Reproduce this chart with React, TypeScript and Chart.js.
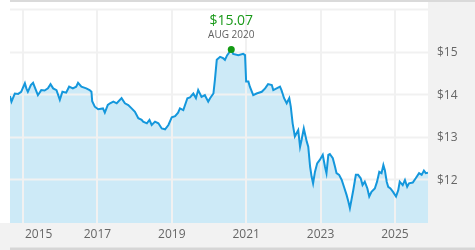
import { useEffect, useRef } from 'react';
import { Chart, registerables } from 'chart.js';

Chart.register(...registerables);

// Dates as decimal years, prices in dollars
const years = [
  2014.65, 2014.69, 2014.78, 2014.87, 2014.95, 2015.05, 2015.09, 2015.13, 2015.21, 2015.27,
  2015.31, 2015.40, 2015.49, 2015.58, 2015.67, 2015.74, 2015.81, 2015.90, 2015.99, 2016.06,
  2016.16, 2016.24, 2016.34, 2016.43, 2016.48, 2016.57, 2016.70, 2016.79, 2016.84, 2016.86,
  2016.93, 2017.02, 2017.15, 2017.20, 2017.28, 2017.34, 2017.43, 2017.52, 2017.65, 2017.74,
  2017.83, 2017.92, 2018.01, 2018.10, 2018.19, 2018.23, 2018.33, 2018.40, 2018.46, 2018.55,
  2018.64, 2018.73, 2018.82, 2018.91, 2019.00, 2019.09, 2019.17, 2019.22, 2019.31, 2019.42,
  2019.49, 2019.58, 2019.65, 2019.71, 2019.80, 2019.89, 2019.98, 2020.03, 2020.12, 2020.16,
  2020.21, 2020.30, 2020.38, 2020.43, 2020.49, 2020.60, 2020.65, 2020.79, 2020.92, 2020.97,
  2021.00, 2021.06, 2021.10, 2021.19, 2021.28, 2021.42, 2021.51, 2021.59, 2021.69, 2021.73,
  2021.82, 2021.91, 2021.95, 2022.02, 2022.09, 2022.16, 2022.20, 2022.25, 2022.31, 2022.40,
  2022.45, 2022.49, 2022.55, 2022.63, 2022.67, 2022.72, 2022.76, 2022.80, 2022.85, 2022.91,
  2022.98, 2023.06, 2023.12, 2023.16, 2023.21, 2023.25, 2023.33, 2023.39, 2023.43, 2023.50,
  2023.57, 2023.63, 2023.70, 2023.75, 2023.79, 2023.84, 2023.88, 2023.95, 2024.01, 2024.08,
  2024.13, 2024.19, 2024.26, 2024.31, 2024.37, 2024.46, 2024.52, 2024.58, 2024.64, 2024.69,
  2024.73, 2024.78, 2024.82, 2024.88, 2024.95, 2025.03, 2025.09, 2025.13, 2025.21, 2025.27,
  2025.33, 2025.38, 2025.48, 2025.56, 2025.65, 2025.72, 2025.78, 2025.83, 2025.89,
];

const prices = [
  13.98, 13.85, 14.04, 14.03, 14.08, 14.28, 14.16, 14.08, 14.24, 14.29,
  14.20, 14.00, 14.12, 14.11, 14.16, 14.26, 14.16, 14.12, 13.89, 14.08,
  14.06, 14.20, 14.16, 14.20, 14.29, 14.20, 14.16, 14.12, 14.08, 13.86,
  13.73, 13.67, 13.69, 13.59, 13.77, 13.81, 13.85, 13.81, 13.93, 13.81,
  13.77, 13.69, 13.61, 13.46, 13.42, 13.38, 13.34, 13.42, 13.30, 13.38,
  13.34, 13.22, 13.20, 13.30, 13.48, 13.51, 13.59, 13.69, 13.65, 13.93,
  13.95, 14.04, 13.93, 14.12, 13.96, 14.00, 13.85, 13.93, 14.04, 14.36,
  14.83, 14.90, 14.87, 14.83, 14.94, 15.07, 14.97, 14.94, 14.97, 14.94,
  14.32, 14.32, 14.20, 14.00, 14.04, 14.08, 14.16, 14.26, 14.24, 14.12,
  14.16, 14.20, 14.12, 13.93, 13.81, 13.93, 13.73, 13.34, 13.03, 13.18,
  12.79, 12.95, 13.22, 12.91, 12.79, 12.32, 12.09, 11.93, 12.20, 12.40,
  12.48, 12.60, 12.32, 12.17, 12.60, 12.62, 12.52, 12.32, 12.17, 12.13,
  12.01, 11.85, 11.66, 11.50, 11.35, 11.58, 11.77, 12.13, 12.13, 12.05,
  11.89, 11.97, 11.81, 11.62, 11.73, 11.81, 11.97, 12.20, 12.17, 12.36,
  12.24, 11.97, 11.85, 11.81, 11.73, 11.62, 11.77, 11.97, 11.89, 12.01,
  11.85, 11.93, 11.95, 12.05, 12.17, 12.13, 12.23, 12.17, 12.18,
];

const peakYears = [2020.6];
const peakPrices = [15.07];
const peakLabels = ['AUG 2020'];

const xTickYears = [2015, 2017, 2019, 2021, 2023, 2025];
const xTickLabels = ['2015', '2017', '2019', '2021', '2023', '2025'];
const yTickValues = [12, 13, 14, 15];
const yGridValues = [12, 13, 14, 15, 16];
const xRange = [2014.65, 2025.89];
const yRange = [11, 16];

const FONT = '"Open Sans", "DejaVu Sans", sans-serif';

export default function App() {
  const ref = useRef<HTMLCanvasElement>(null);

  useEffect(() => {
    document.body.style.margin = '0';
    const canvas = ref.current;
    if (!canvas) return;

    const lineData = years.map((x, i) => ({ x, y: prices[i] }));
    const peakData = peakYears.map((x, i) => ({ x, y: peakPrices[i] }));

    const decor = {
      id: 'decor',
      beforeDraw(chart: any) {
        const c = chart.ctx;
        const { width, height } = chart;
        const a = chart.chartArea;
        c.save();
        c.fillStyle = '#ffffff';
        c.fillRect(0, 0, width, height);
        c.fillStyle = '#f2f2f2';
        c.fillRect(a.right, 2, width - a.right, a.bottom - 2);
        c.fillRect(0, a.bottom, width, height - a.bottom);
        c.fillStyle = '#dadada';
        c.fillRect(a.left, 0, width - a.left, 2);
        c.fillStyle = '#d6d6d6';
        c.fillRect(a.left, height - 2.5, width - a.left, 2.5);
        c.restore();
      },
      afterDatasetDraw(chart: any, args: any) {
        if (args.index !== 2) return;
        const c = chart.ctx;
        const a = chart.chartArea;
        const xs = chart.scales.x;
        const ys = chart.scales.y;
        c.save();
        c.strokeStyle = '#f1f1f1';
        c.lineWidth = 2;
        c.beginPath();
        xTickYears.forEach((v) => {
          const px = Math.round(xs.getPixelForValue(v));
          c.moveTo(px, a.top - 1);
          c.lineTo(px, a.bottom);
        });
        yGridValues.forEach((v) => {
          const py = Math.round(ys.getPixelForValue(v)) - 0.5;
          c.moveTo(a.left, py);
          c.lineTo(a.right, py);
        });
        c.stroke();
        c.restore();
      },
      afterDraw(chart: any) {
        const c = chart.ctx;
        const a = chart.chartArea;
        const xs = chart.scales.x;
        const ys = chart.scales.y;
        c.save();
        // x-axis labels
        c.font = `12px ${FONT}`;
        c.fillStyle = '#666666';
        c.textAlign = 'center';
        c.textBaseline = 'alphabetic';
        xTickYears.forEach((v, i) => {
          const label = xTickLabels[i];
          const w = c.measureText(label).width;
          const px = xs.getPixelForValue(v);
          const cx = Math.max(px, a.left + 15 + w / 2);
          c.fillText(label, cx, a.bottom + 14.5);
        });
        // peak annotation
        const px = xs.getPixelForValue(peakYears[0]);
        const py = ys.getPixelForValue(peakPrices[0]);
        c.fillStyle = '#1a9a1a';
        c.font = `14px ${FONT}`;
        c.fillText('$' + peakPrices[0].toFixed(2), px, py - 24.5);
        c.fillStyle = '#5f5f5f';
        c.font = `10px ${FONT}`;
        c.fillText(peakLabels[0], px, py - 12);
        c.restore();
      },
    };

    const chart = new Chart(canvas, {
      type: 'line',
      data: {
        datasets: [
          {
            data: peakData,
            showLine: false,
            pointRadius: 3.5,
            pointBackgroundColor: '#139a13',
            pointBorderWidth: 0,
            borderColor: '#139a13',
          },
          {
            data: lineData,
            borderColor: '#1497dc',
            borderWidth: 2,
            pointRadius: 0,
            fill: false,
            tension: 0,
          },
          {
            data: lineData,
            borderWidth: 0,
            borderColor: 'rgba(0,0,0,0)',
            backgroundColor: '#cdeaf7',
            pointRadius: 0,
            fill: 'start',
            tension: 0,
          },
        ],
      },
      options: {
        responsive: false,
        animation: false,
        devicePixelRatio: 1,
        events: [],
        layout: { padding: { left: 10, top: 10, right: 0, bottom: 0 } },
        plugins: {
          legend: { display: false },
          tooltip: { enabled: false },
        },
        scales: {
          x: {
            type: 'linear',
            min: xRange[0],
            max: xRange[1],
            grid: { display: false, drawTicks: false },
            border: { display: false },
            ticks: { display: false },
            afterBuildTicks: (s: any) => {
              s.ticks = xTickYears.map((v) => ({ value: v }));
            },
            afterFit: (s: any) => {
              s.height = 27;
              s.paddingLeft = 0;
              s.paddingRight = 0;
            },
          },
          y: {
            type: 'linear',
            position: 'right',
            min: yRange[0],
            max: yRange[1],
            grid: { display: false, drawTicks: false },
            border: { display: false },
            ticks: {
              padding: 9,
              color: '#666666',
              font: { family: FONT, size: 12 },
              callback: (v: any) => '$' + v,
            },
            afterBuildTicks: (s: any) => {
              s.ticks = yTickValues.map((v) => ({ value: v }));
            },
            afterFit: (s: any) => {
              s.width = 47;
              s.paddingTop = 0;
              s.paddingBottom = 0;
            },
          },
        },
      },
      plugins: [decor],
    } as any);

    return () => chart.destroy();
  }, []);

  return (
    <div style={{ position: 'absolute', left: 0, top: 0, width: 475, height: 250 }}>
      <canvas ref={ref} width={475} height={250} />
    </div>
  );
}
